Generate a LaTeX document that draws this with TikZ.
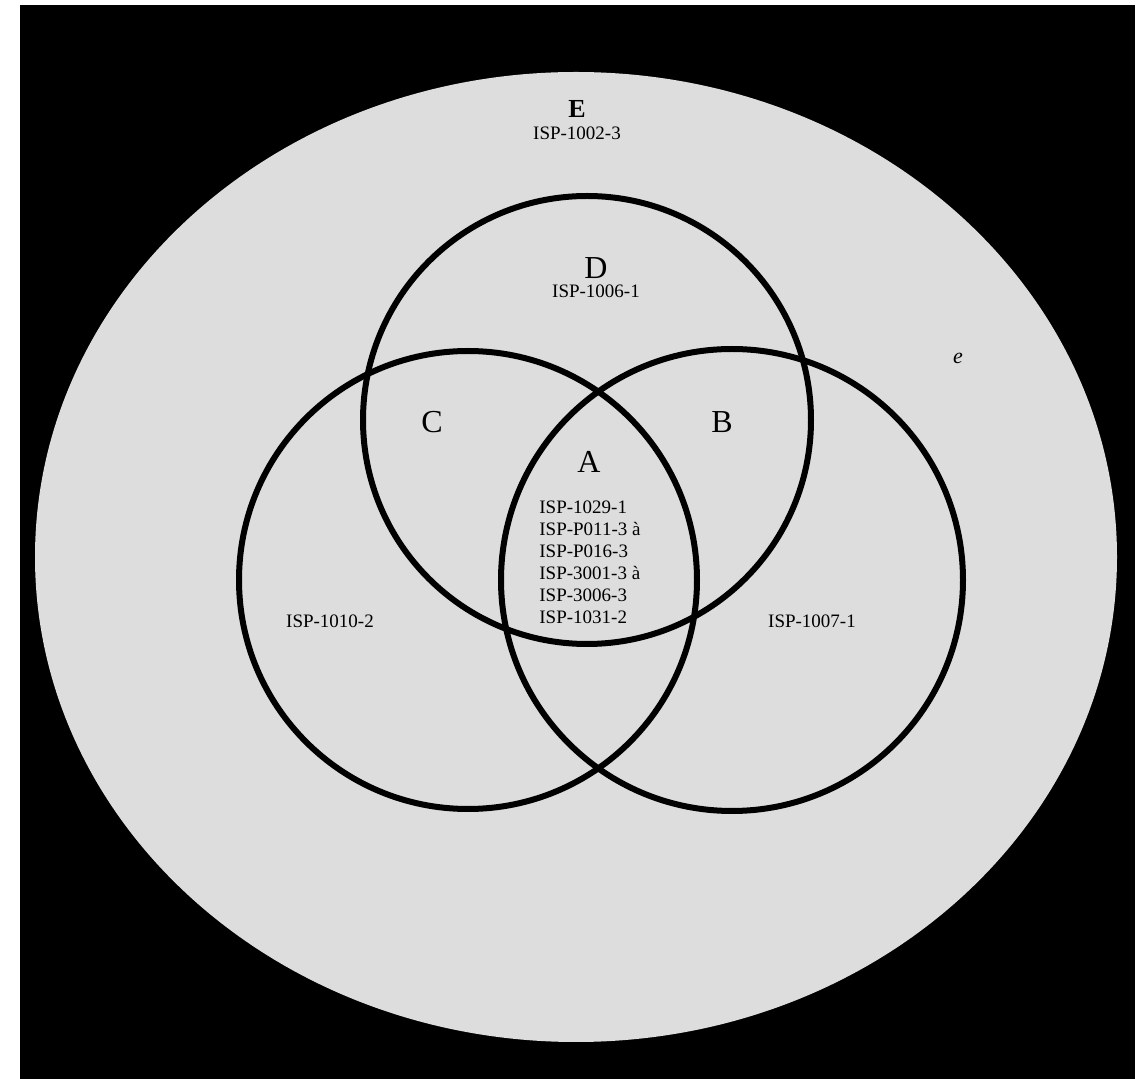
\documentclass[tikz,border=0pt]{standalone}
\usepackage{fontspec}
\setmainfont{Liberation Serif}
\usepackage{xcolor}
\usetikzlibrary{positioning,shapes.geometric}

\definecolor{granite}{RGB}{221,221,221}

\begin{document}
\begin{tikzpicture}[
  x=0.5pt, y=-0.5pt,
  node distance=1pt,
  ring/.style={draw=black, circle, line width=3pt, inner sep=0pt, outer sep=0pt},
  letter/.style={inner sep=0pt, font=\fontsize{16}{18}\selectfont},
  code/.style={inner sep=0pt, align=left, font=\fontsize{9.5}{11}\selectfont}
]
\useasboundingbox (0,0) rectangle (1142,1079);
\fill[black] (20,5) rectangle (1135,1079);
\node[ellipse, fill=granite, inner sep=0pt, minimum width=541pt, minimum height=485pt] (universe) at (576,557) {};
\node[ring, minimum size=224pt] (ringD) at (587,420) {};
\node[ring, minimum size=229pt] (ringC) at (468,580) {};
\node[ring, minimum size=231pt] (ringB) at (732,580) {};
\node[inner sep=0pt, font=\fontsize{13}{15}\selectfont\bfseries] (letterE) at (577,109) {E};
\node[code, below=4.5pt of letterE] (codeE) {ISP-1002-3};
\node[letter] (letterD) at (596,268) {D};
\node[code, below=3pt of letterD] (codeD) {ISP-1006-1};
\node[inner sep=0pt, font=\fontsize{11}{13}\selectfont\itshape] (labelE) at (958,358) {e};
\node[letter] (letterC) at (432,422) {C};
\node[letter] (letterB) at (722,422) {B};
\node[letter] (letterA) at (589,462) {A};
\node[code, anchor=west] (codeA) at (539,562) {ISP-1029-1\\ISP-P011-3 à\\ISP-P016-3\\ISP-3001-3 à\\ISP-3006-3\\ISP-1031-2};
\node[code] (codeC) at (330,621) {ISP-1010-2};
\node[code] (codeB) at (812,621) {ISP-1007-1};
\end{tikzpicture}
\end{document}
